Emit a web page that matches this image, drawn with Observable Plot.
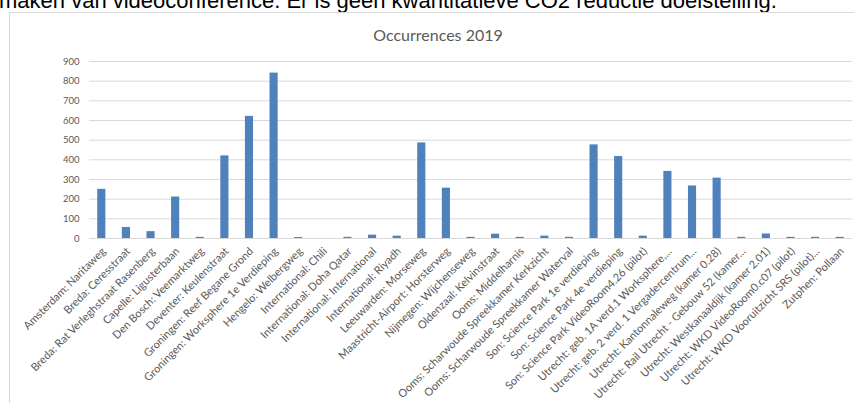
<!DOCTYPE html>
<html><head><meta charset="utf-8">
<script src="https://cdn.jsdelivr.net/npm/d3@7"></script>
<script src="https://cdn.jsdelivr.net/npm/@observablehq/plot@0.6"></script>
<style>
body{margin:0;width:854px;height:403px;overflow:hidden;background:#fff;position:relative;font-family:Lato,sans-serif}
#doc{position:absolute;left:-1px;top:-10px;font:22px/22px "Liberation Sans",Arial,sans-serif;color:#000;white-space:nowrap}
#box{position:absolute;left:9px;top:12px;width:880px;height:420px;border:1px solid #d9d9d9;box-sizing:border-box}
#title{position:absolute;left:0;top:25px;width:876px;text-align:center;font:16px Lato,sans-serif;color:#595959}
#chart{position:absolute;left:0;top:45px}
</style></head>
<body>
<div id="doc">maken van videoconference. Er is geen kwantitatieve CO2 reductie doelstelling.</div>
<div id="box"></div>
<div id="title">Occurrences 2019</div>
<div id="chart"></div>
<script>
const categories = [
  "Amsterdam: Naritaweg",
  "Breda: Ceresstraat",
  "Breda: Rat Verleghstraat Rasenberg",
  "Capelle: Ligusterbaan",
  "Den Bosch: Veemarktweg",
  "Deventer: Keulenstraat",
  "Groningen: Reef Begane Grond",
  "Groningen: Worksphere 1e Verdieping",
  "Hengelo: Welbergweg",
  "International: Chili",
  "International: Doha Qatar",
  "International: International",
  "International: Riyadh",
  "Leeuwarden: Morseweg",
  "Maastricht-Airport: Horsterweg",
  "Nijmegen: Wijchenseweg",
  "Oldenzaal: Kelvinstraat",
  "Ooms: Middelharnis",
  "Ooms: Scharwoude Spreekkamer Kerkzicht",
  "Ooms: Scharwoude Spreekkamer Waterval",
  "Son: Science Park 1e verdieping",
  "Son: Science Park 4e verdieping",
  "Son: Science Park VideoRoom4.26 (pilot)",
  "Utrecht: geb. 1A verd.1 Worksphere,...",
  "Utrecht: geb. 2 verd. 1 Vergadercentrum...",
  "Utrecht: Kantonnaleweg (kamer 0.28)",
  "Utrecht: Rail Utrecht - Gebouw 52 (kamer...",
  "Utrecht: Westkanaaldijk (kamer 2.01)",
  "Utrecht: WKD VideoRoom0.c07 (pilot)",
  "Utrecht: WKD Vooruitzicht SRS (pilot)...",
  "Zutphen: Pollaan"
];
const occurrences = [250, 56, 35, 211, 6, 420, 621, 841, 5, 0, 6, 17, 12, 486, 256, 6, 22, 6, 12, 6, 476, 417, 12, 341, 267, 307, 6, 23, 6, 6, 6];
const yTicks = [0, 100, 200, 300, 400, 500, 600, 700, 800, 900];

const data = categories.map((c, i) => ({category: c, value: occurrences[i]}));

const chart = Plot.plot({
  width: 854,
  height: 358,
  marginTop: 16,
  marginBottom: 165,
  marginLeft: 89,
  marginRight: 2,
  style: {fontFamily: "Lato, sans-serif", fontSize: "10px", color: "#595959", background: "transparent", overflow: "visible"},
  x: {domain: categories, paddingInner: 0.67, paddingOuter: 0.335, round: false, label: null},
  y: {domain: [0, 900], label: null},
  marks: [
    Plot.gridY(yTicks, {stroke: "#d9d9d9", strokeOpacity: 1, strokeWidth: 1}),
    Plot.barY(data, {x: "category", y: "value", fill: "#4f81bd"}),
    Plot.axisY(yTicks, {tickSize: 0, tickPadding: 10, label: null, fontSize: 9.5, fill: "#595959"}),
    Plot.axisX({tickSize: 0, tickRotate: -45, tickPadding: 11, dx: 2, label: null, fontSize: 11, fill: "#595959"})
  ]
});
document.getElementById("chart").appendChild(chart);
</script>
</body></html>
